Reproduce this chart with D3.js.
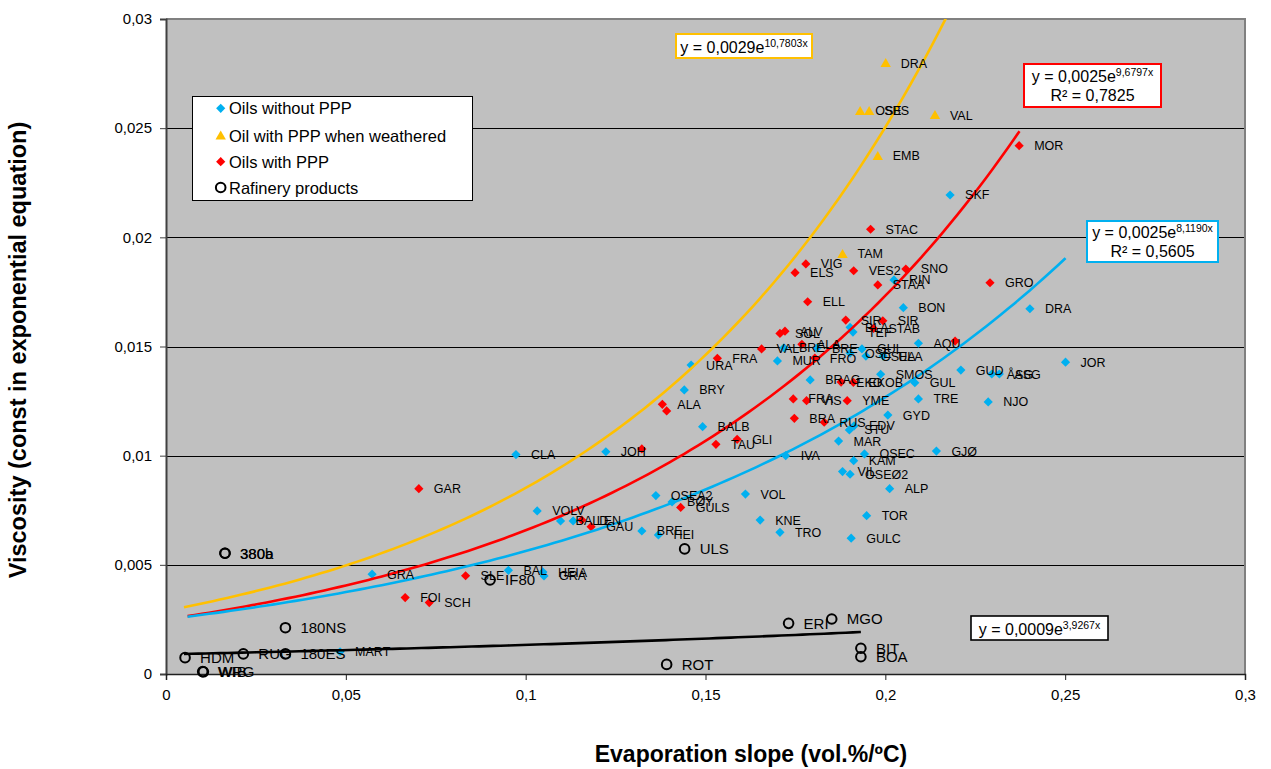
<!DOCTYPE html>
<html>
<head>
<meta charset="utf-8">
<script src="https://cdn.jsdelivr.net/npm/d3@7"></script>
<style>
  body { margin: 0; background: #fff; }
  text { font-family: "Liberation Sans", Arial, sans-serif; fill: #000; }
</style>
</head>
<body>
<svg id="chart" width="1271" height="769"></svg>
<script>
// ---- axis ticks ----
const xTicks = [0, 0.05, 0.1, 0.15, 0.2, 0.25, 0.3];
const xTickLabels = ["0", "0,05", "0,1", "0,15", "0,2", "0,25", "0,3"];
const yTicks = [0, 0.005, 0.01, 0.015, 0.02, 0.025, 0.03];
const yTickLabels = ["0", "0,005", "0,01", "0,015", "0,02", "0,025", "0,03"];

// ---- series: [name, evaporation slope, viscosity constant] ----
const oilsWithoutPPP = [
  ["SKF", 0.2180, 0.02194], ["RIN", 0.2024, 0.01805], ["BON", 0.2050, 0.01678],
  ["DRA", 0.2402, 0.01673], ["BLA", 0.1902, 0.01588], ["TEF", 0.1910, 0.01566],
  ["AQU", 0.2092, 0.01515], ["BRE", 0.1718, 0.01494], ["BRE", 0.1810, 0.01493],
  ["JOR", 0.2501, 0.01428], ["OSE", 0.1902, 0.01470], ["GUL", 0.1935, 0.01489],
  ["OSEA", 0.1946, 0.01456], ["ULA", 0.1994, 0.01456], ["MUR", 0.1700, 0.01434],
  ["URA", 0.1460, 0.01415], ["GUD", 0.2210, 0.01392], ["ÅSG", 0.2296, 0.01374],
  ["ASG", 0.2317, 0.01374], ["SMOS", 0.1987, 0.01373], ["BRAG", 0.1791, 0.01347],
  ["GUL", 0.2082, 0.01334], ["BRY", 0.1441, 0.01301], ["TRE", 0.2092, 0.01260],
  ["NJO", 0.2286, 0.01246], ["GYD", 0.2007, 0.01186], ["BALB", 0.1492, 0.01133],
  ["EDV", 0.1913, 0.01136], ["STU", 0.1900, 0.01118], ["MAR", 0.1870, 0.01067],
  ["GJØ", 0.2142, 0.01021], ["CLA", 0.0973, 0.01005], ["JOH", 0.1223, 0.01018],
  ["OSEC", 0.1942, 0.01008], ["IVA", 0.1723, 0.01000], ["KAM", 0.1912, 0.00977],
  ["VIL", 0.1881, 0.00927], ["OSEØ2", 0.1902, 0.00915], ["ALP", 0.2012, 0.00849],
  ["VOL", 0.1611, 0.00824], ["OSEA2", 0.1362, 0.00817], ["BØY", 0.1407, 0.00788],
  ["VOLV", 0.1032, 0.00747], ["TOR", 0.1948, 0.00725], ["KNE", 0.1652, 0.00705],
  ["BALD", 0.1097, 0.00701], ["", 0.1132, 0.00701], ["BRE", 0.1323, 0.00655],
  ["TRO", 0.1707, 0.00649], ["HEI", 0.1369, 0.00637], ["GULC", 0.1905, 0.00622],
  ["BAL", 0.0952, 0.00475], ["HEIA", 0.1048, 0.00467], ["GRA", 0.1051, 0.00449],
  ["GRA", 0.0573, 0.00457], ["MART", 0.0484, 0.00102]
];

const oilsWeathered = [
  ["DRA", 0.2001, 0.02798], ["OSE", 0.1930, 0.02579], ["SBS", 0.1955, 0.02579],
  ["VAL", 0.2138, 0.02560], ["EMB", 0.1979, 0.02373], ["TAM", 0.1881, 0.01924]
];

const oilsWithPPP = [
  ["MOR", 0.2372, 0.02420], ["STAC", 0.1959, 0.02037], ["VIG", 0.1779, 0.01878],
  ["ELS", 0.1749, 0.01838], ["VES2", 0.1912, 0.01847], ["SNO", 0.2057, 0.01855],
  ["STAA", 0.1979, 0.01782], ["GRO", 0.2291, 0.01792], ["ELL", 0.1784, 0.01705],
  ["SIR", 0.1890, 0.01621], ["SIR", 0.1993, 0.01618], ["STAB", 0.1967, 0.01583],
  ["", 0.2194, 0.01525], ["SOL", 0.1707, 0.01560], ["ALV", 0.1721, 0.01570],
  ["ALA", 0.1768, 0.01510], ["VAL", 0.1656, 0.01489], ["FRO", 0.1804, 0.01447],
  ["FRA", 0.1533, 0.01446], ["EKO", 0.1877, 0.01337], ["EKOB", 0.1911, 0.01336],
  ["FRA", 0.1744, 0.01260], ["VIS", 0.1781, 0.01252], ["YME", 0.1894, 0.01252],
  ["BRA", 0.1747, 0.01171], ["RUS", 0.1830, 0.01153], ["ALA", 0.1380, 0.01235],
  ["", 0.1392, 0.01205], ["TAU", 0.1529, 0.01052], ["GLI", 0.1588, 0.01075],
  ["", 0.1323, 0.01031], ["GAR", 0.0703, 0.00849], ["GULS", 0.1431, 0.00763],
  ["LEN", 0.1156, 0.00705], ["GAU", 0.1182, 0.00675], ["SLE", 0.0833, 0.00450],
  ["FOI", 0.0665, 0.00350], ["SCH", 0.0732, 0.00327]
];

const refineryProducts = [
  ["380a", 0.0164, 0.00553], ["380b", 0.0164, 0.00553], ["180NS", 0.0332, 0.00212],
  ["RUG", 0.0215, 0.00092], ["180ES", 0.0332, 0.00092], ["HDM", 0.0053, 0.00075],
  ["WRG", 0.0102, 0.00011], ["WIB", 0.0104, 0.00010], ["IF80", 0.0901, 0.00431],
  ["ULS", 0.1442, 0.00573], ["ERI", 0.1731, 0.00232], ["MGO", 0.1851, 0.00252],
  ["BIT", 0.1932, 0.00118], ["BOA", 0.1932, 0.00079], ["ROT", 0.1392, 0.00044]
];

// ---- exponential trend fits y = a·e^(b·x) ----
const fitNames = ["weathered", "withPPP", "withoutPPP", "refinery"];
const fitCoef = [0.0029, 0.0025, 0.0025, 0.0009];
const fitExp = [10.7803, 9.6797, 8.1190, 3.9267];
const fitR2 = [null, 0.7825, 0.5605, null];
const fitFrom = [0.005, 0.006, 0.006, 0.005];
const fitTo = [0.2168, 0.2373, 0.2501, 0.1932];

const legendLabels = ["Oils without PPP", "Oil with PPP when weathered", "Oils with PPP", "Rafinery products"];

(function draw() {
  const svg = d3.select("#chart");
  const pL = 166, pR = 1245, pT = 19, pB = 674;
  const x = d3.scaleLinear().domain([0, 0.3]).range([pL, pR]);
  const y = d3.scaleLinear().domain([0, 0.03]).range([pB, pT]);

  const BLUE = "#00B0F0", ORANGE = "#FFC000", RED = "#FF0000", BLACK = "#000000";
  const comma = v => String(v).replace(".", ",");

  // plot area
  svg.append("rect").attr("x", pL).attr("y", pT)
    .attr("width", pR - pL).attr("height", pB - pT).attr("fill", "#C0C0C0");

  // horizontal gridlines
  svg.append("g").selectAll("line").data(yTicks.slice(1, -1)).join("line")
    .attr("x1", pL).attr("x2", pR)
    .attr("y1", d => Math.round(y(d)) + 0.5).attr("y2", d => Math.round(y(d)) + 0.5)
    .attr("stroke", "#000").attr("stroke-width", 1);

  // frame top/right
  svg.append("path")
    .attr("d", `M${pL},${pT} H${pR} V${pB}`)
    .attr("fill", "none").attr("stroke", "#808080").attr("stroke-width", 2);

  // axes
  const yAxis = d3.axisLeft(y).tickValues(yTicks).tickFormat((d, i) => yTickLabels[i]).tickSizeOuter(0).tickSize(6).tickPadding(8);
  const gy = svg.append("g").attr("transform", `translate(${pL},0)`).call(yAxis);
  gy.select(".domain").attr("stroke", "#404040").attr("stroke-width", 2);
  gy.selectAll(".tick line").attr("stroke", "#404040");
  gy.selectAll(".tick text").attr("font-size", 15).attr("font-family", "Liberation Sans, Arial, sans-serif").attr("fill", "#000");

  const xAxis = d3.axisBottom(x).tickValues(xTicks).tickFormat((d, i) => xTickLabels[i]).tickSizeOuter(0).tickSize(6).tickPadding(9);
  const gx = svg.append("g").attr("transform", `translate(0,${pB})`).call(xAxis);
  gx.select(".domain").attr("stroke", "#202020").attr("stroke-width", 1.5);
  gx.selectAll(".tick line").attr("stroke", "#202020");
  gx.selectAll(".tick text").attr("font-size", 15).attr("font-family", "Liberation Sans, Arial, sans-serif").attr("fill", "#000");

  // axis titles
  svg.append("text").attr("x", 751).attr("y", 762).attr("text-anchor", "middle")
    .attr("font-size", 23).attr("font-weight", "bold")
    .text("Evaporation slope (vol.%/ºC)");
  svg.append("text").attr("transform", "translate(26,350) rotate(-90)").attr("text-anchor", "middle")
    .attr("font-size", 23.5).attr("font-weight", "bold")
    .text("Viscosity (const in exponential equation)");

  // marker shapes
  const diamond = "M0,-4.6L4.6,0L0,4.6L-4.6,0Z";
  const triangle = "M0,-5L5.2,4L-5.2,4Z";

  const plot = svg.append("g");
  function markers(data, path, color) {
    plot.append("g").selectAll("path").data(data).join("path")
      .attr("transform", d => `translate(${x(d[1])},${y(d[2])})`)
      .attr("d", path).attr("fill", color);
  }
  markers(oilsWithoutPPP, diamond, BLUE);
  markers(oilsWeathered, triangle, ORANGE);
  markers(oilsWithPPP, diamond, RED);
  plot.append("g").selectAll("circle").data(refineryProducts).join("circle")
    .attr("cx", d => x(d[1])).attr("cy", d => y(d[2])).attr("r", 4.8)
    .attr("fill", "none").attr("stroke", BLACK).attr("stroke-width", 2);

  // trend lines
  svg.append("clipPath").attr("id", "plotClip").append("rect")
    .attr("x", pL).attr("y", pT).attr("width", pR - pL).attr("height", pB - pT);
  const fitColors = [ORANGE, RED, BLUE, BLACK];
  const line = d3.line().x(d => x(d[0])).y(d => y(d[1]));
  fitNames.forEach((name, i) => {
    const pts = d3.range(fitFrom[i], fitTo[i], 0.002).concat([fitTo[i]])
      .map(v => [v, fitCoef[i] * Math.exp(fitExp[i] * v)]);
    svg.append("path").datum(pts).attr("class", "fit-" + name)
      .attr("clip-path", "url(#plotClip)")
      .attr("d", line).attr("fill", "none")
      .attr("stroke", fitColors[i]).attr("stroke-width", 2.6);
  });

  // data labels
  function labels(data, size) {
    svg.append("g").selectAll("text").data(data.filter(d => d[0])).join("text")
      .attr("x", d => x(d[1]) + 15).attr("y", d => y(d[2]) + size * 0.36)
      .attr("font-size", size).attr("fill", "#111").text(d => d[0]);
  }
  labels(oilsWithoutPPP, 12.5);
  labels(oilsWeathered, 12.5);
  labels(oilsWithPPP, 12.5);
  labels(refineryProducts, 15);

  // legend
  const lg = svg.append("g");
  lg.append("rect").attr("x", 192.5).attr("y", 96.5).attr("width", 280).attr("height", 104)
    .attr("fill", "#fff").attr("stroke", "#000").attr("stroke-width", 1);
  const rowsY = [108.3, 135.5, 161.7, 187.5];
  const legendShapes = [[diamond, BLUE], [triangle, ORANGE], [diamond, RED], [null, BLACK]];
  legendLabels.forEach((t, i) => {
    const [p, c] = legendShapes[i];
    if (p) {
      lg.append("path").attr("transform", `translate(220.7,${rowsY[i]})`).attr("d", p).attr("fill", c);
    } else {
      lg.append("circle").attr("cx", 220.7).attr("cy", rowsY[i]).attr("r", 4.8)
        .attr("fill", "none").attr("stroke", c).attr("stroke-width", 2);
    }
    lg.append("text").attr("x", 229).attr("y", rowsY[i] + 6).attr("font-size", 16.5).text(t);
  });

  // equation boxes
  const eqBoxes = [
    { x0: 676, y0: 34, x1: 812, y1: 58, base: 52.5 },
    { x0: 1024, y0: 64, x1: 1161, y1: 107, base: 82 },
    { x0: 1087, y0: 221, x1: 1218, y1: 262, base: 238 },
    { x0: 971, y0: 616, x1: 1108, y1: 640, base: 634.5 }
  ];
  fitNames.forEach((name, i) => {
    const b = eqBoxes[i];
    const g = svg.append("g");
    g.append("rect").attr("x", b.x0).attr("y", b.y0).attr("width", b.x1 - b.x0).attr("height", b.y1 - b.y0)
      .attr("fill", "#fff").attr("stroke", fitColors[i]).attr("stroke-width", i === 3 ? 1.6 : 2);
    const cx = (b.x0 + b.x1) / 2;
    const t = g.append("text").attr("x", cx).attr("y", b.base).attr("text-anchor", "middle").attr("font-size", 16);
    t.append("tspan").text("y = " + fitCoef[i].toFixed(4).replace(".", ",") + "e");
    t.append("tspan").attr("font-size", 10.5).attr("dy", -6).text(fitExp[i].toFixed(4).replace(".", ",") + "x");
    if (fitR2[i] !== null) {
      g.append("text").attr("x", cx).attr("y", b.base + 19).attr("text-anchor", "middle").attr("font-size", 16)
        .text("R² = " + comma(fitR2[i]));
    }
  });
})();
</script>
</body>
</html>
